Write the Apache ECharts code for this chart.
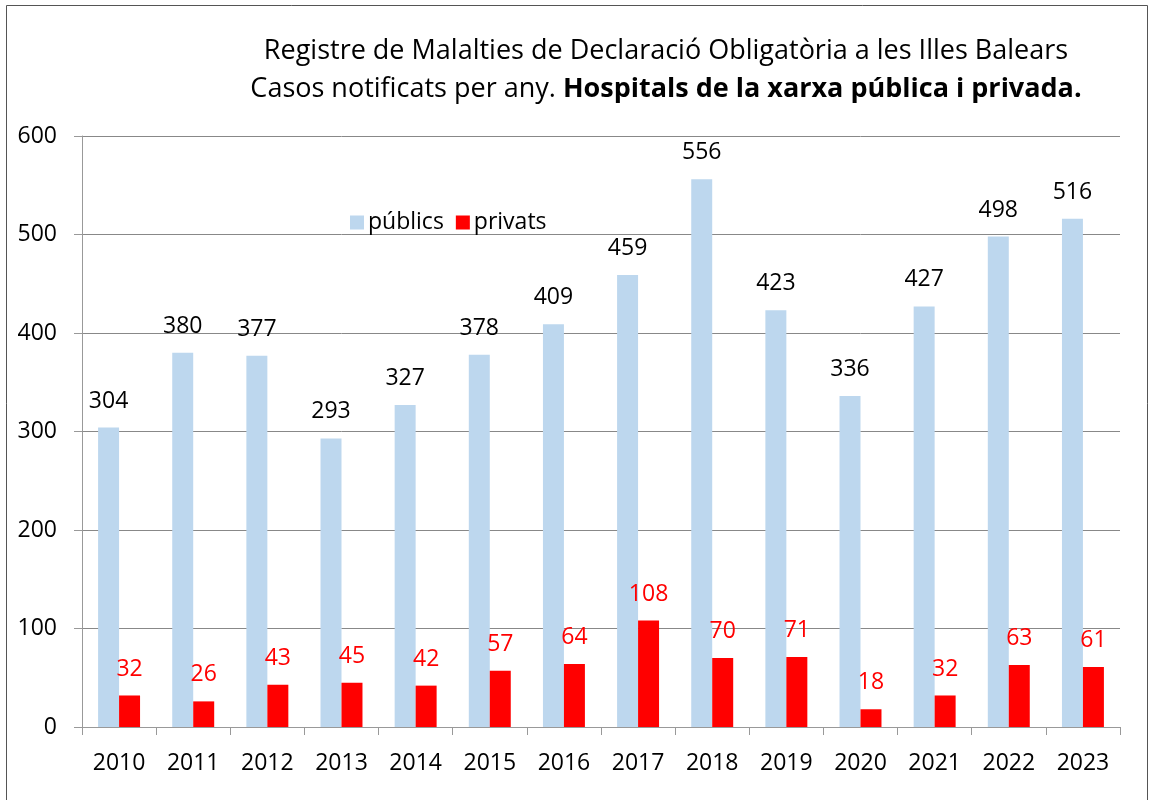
<!DOCTYPE html>
<html><head><meta charset="utf-8">
<script src="https://cdn.jsdelivr.net/npm/echarts@6/dist/echarts.min.js"></script>
<style>html,body{margin:0;padding:0;background:#fff}#c{width:1150px;height:800px}</style>
</head><body><div id="c"></div>
<script>
const years = ['2010','2011','2012','2013','2014','2015','2016','2017','2018','2019','2020','2021','2022','2023'];
const publics = [304,380,377,293,327,378,409,459,556,423,336,427,498,516];
const privats = [32,26,43,45,42,57,64,108,70,71,18,32,63,61];
const yTicks = [0,100,200,300,400,500,600];

const FONT = 'Open Sans';
const chart = echarts.init(document.getElementById('c'));
chart.setOption({
  animation: false,
  textStyle: {fontFamily: FONT},
  title: {
    text: 'Registre de Malalties de Declaració Obligatòria a les Illes Balears\nCasos notificats per any. {b|Hospitals de la xarxa pública i privada.}',
    left: 661, top: 27, textAlign: 'center',
    textStyle: {fontFamily: FONT, fontSize: 27, fontWeight: 'normal', color: '#000', lineHeight: 38,
      rich: {b: {fontFamily: FONT, fontSize: 27, fontWeight: 'bold', color: '#000', lineHeight: 38}}}
  },
  graphic: [{type: 'rect', shape: {x: 6.5, y: 5.5, width: 1141, height: 800}, style: {fill: 'none', stroke: '#555', lineWidth: 1}, silent: true}],
  legend: {
    left: 345, top: 206, itemWidth: 14, itemHeight: 14, itemGap: 12,
    icon: 'rect',
    textStyle: {fontFamily: FONT, fontSize: 23, color: '#000', padding: [0,0,0,-1]},
    data: ['públics', 'privats']
  },
  grid: {left: 82, right: 30, top: 136, bottom: 73, containLabel: false},
  xAxis: {
    type: 'category', data: years,
    axisLine: {lineStyle: {color: '#999', width: 1}},
    axisTick: {show: true, length: 8, lineStyle: {color: '#999'}},
    axisLabel: {fontFamily: FONT, fontSize: 23, color: '#000', margin: 25}
  },
  yAxis: {
    type: 'value', min: 0, max: 600, interval: 100,
    axisLine: {show: true, lineStyle: {color: '#999'}},
    axisTick: {show: true, length: 8, lineStyle: {color: '#999'}},
    axisLabel: {fontFamily: FONT, fontSize: 23, color: '#000', margin: 25,
      formatter: v => yTicks.includes(v) ? String(v) : ''},
    splitLine: {lineStyle: {color: '#888', width: 1}}
  },
  series: [
    {name: 'públics', type: 'bar', data: publics, barWidth: '28.3%', barGap: '0%',
      itemStyle: {color: '#bdd7ee'},
      label: {show: true, position: 'top', distance: 15, fontFamily: FONT, fontSize: 23, color: '#000'}},
    {name: 'privats', type: 'bar', data: privats, barWidth: '28.3%', barGap: '0%',
      itemStyle: {color: '#ff0000'},
      label: {show: true, position: 'top', distance: 15, fontFamily: FONT, fontSize: 23, color: '#ff0000'}}
  ]
});
</script></body></html>
